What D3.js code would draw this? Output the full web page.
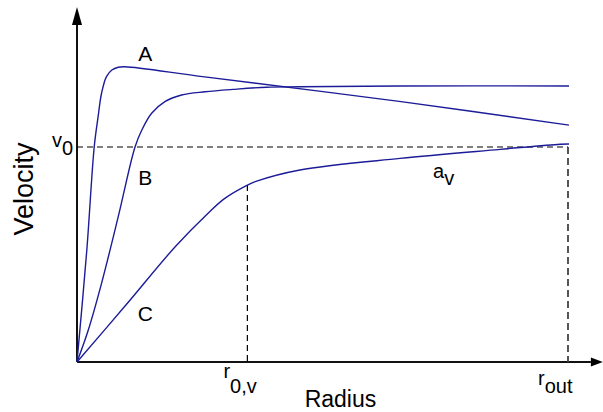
<!DOCTYPE html>
<html>
<head>
<meta charset="utf-8">
<script src="https://cdn.jsdelivr.net/npm/d3@7"></script>
<style>
  html, body { margin: 0; padding: 0; background: #fff; }
  svg { display: block; }
  text { font-family: "Liberation Sans", Arial, Helvetica, sans-serif; fill: #000; }
</style>
</head>
<body>
<svg id="chart" width="603" height="412"></svg>
<script>
// Rotation-curve sketch: velocity against radius for three profiles.
// Radius is in units where r_out = 10, velocity in units of v0.

const curveA_r = [0, 0.2, 0.35, 0.43, 0.5, 0.6, 0.71, 0.84, 0.98, 2.6, 6.6, 10.02];
const curveA_v = [0, 0.521, 0.999, 1.141, 1.25, 1.327, 1.358, 1.371, 1.373, 1.326, 1.211, 1.102];

const curveB_r = [0, 0.23, 0.5, 0.84, 1.18, 1.32, 1.52, 1.79, 2.13, 2.61, 3.18, 3.86, 4.54, 6.58, 10.02];
const curveB_v = [0, 0.149, 0.366, 0.676, 0.999, 1.079, 1.157, 1.211, 1.242, 1.257, 1.268, 1.278, 1.28, 1.284, 1.284];

const curveC_r = [0, 1.0, 2.0, 2.67, 3.01, 3.47, 3.63, 4.54, 6.58, 8.62, 9.84, 10.02];
const curveC_v = [0, 0.266, 0.536, 0.692, 0.761, 0.823, 0.839, 0.893, 0.947, 0.989, 1.013, 1.014];

const curveNames = ["A", "B", "C"];
// label anchor for each curve name, in data units
const nameR = [1.39, 1.39, 1.39];
const nameV = [1.398, 0.823, 0.19];

const v0 = 1;          // reference velocity
const r0v = 3.47;      // radius where curve C reaches its knee
const rOut = 10;       // outer radius
const rAxisEnd = 10.71;
const vAxisEnd = 1.651;

const svg = d3.select("#chart");

const x = d3.scaleLinear().domain([0, 10]).range([77, 568]);
const y = d3.scaleLinear().domain([0, 1]).range([362, 147]);

const blue = "#1c1c98";

// axes with arrowheads
const axisG = svg.append("g");
axisG.append("line")
  .attr("x1", x(0)).attr("y1", y(0))
  .attr("x2", x(0)).attr("y2", y(vAxisEnd) + 16)
  .attr("stroke", "#111").attr("stroke-width", 2);
axisG.append("line")
  .attr("x1", x(0)).attr("y1", y(0))
  .attr("x2", x(rAxisEnd) - 12).attr("y2", y(0))
  .attr("stroke", "#111").attr("stroke-width", 2);
axisG.append("path")
  .attr("d", `M${x(0)},${y(vAxisEnd)} L${x(0) - 5},${y(vAxisEnd) + 18} L${x(0) + 5},${y(vAxisEnd) + 18} Z`)
  .attr("fill", "#000");
axisG.append("path")
  .attr("d", `M${x(rAxisEnd)},${y(0)} L${x(rAxisEnd) - 12},${y(0) - 4.5} L${x(rAxisEnd) - 12},${y(0) + 4.5} Z`)
  .attr("fill", "#000");

// reference dashed lines
const dash = svg.append("g").attr("fill", "none");
dash.append("line")
  .attr("x1", x(0)).attr("y1", y(v0)).attr("x2", x(rOut)).attr("y2", y(v0))
  .attr("stroke", "#000").attr("stroke-width", 1.2).attr("stroke-dasharray", "6,4");
dash.append("line")
  .attr("x1", x(rOut)).attr("y1", y(v0)).attr("x2", x(rOut)).attr("y2", y(0))
  .attr("stroke", "#444").attr("stroke-width", 1.8).attr("stroke-dasharray", "7,4");
const cKnee = curveC_v[curveC_r.indexOf(r0v)];
dash.append("line")
  .attr("x1", x(r0v)).attr("y1", y(cKnee)).attr("x2", x(r0v)).attr("y2", y(0))
  .attr("stroke", "#000").attr("stroke-width", 1.2).attr("stroke-dasharray", "6,4");

// velocity curves
const line = d3.line()
  .x(d => x(d[0]))
  .y(d => y(d[1]))
  .curve(d3.curveCatmullRom.alpha(0.5));

const series = [
  d3.zip(curveA_r, curveA_v),
  d3.zip(curveB_r, curveB_v),
  d3.zip(curveC_r, curveC_v)
];

svg.append("g").selectAll("path")
  .data(series)
  .join("path")
  .attr("d", line)
  .attr("fill", "none")
  .attr("stroke", blue)
  .attr("stroke-width", 1.4);

// curve names
svg.append("g").selectAll("text")
  .data(curveNames)
  .join("text")
  .attr("x", (d, i) => x(nameR[i]))
  .attr("y", (d, i) => y(nameV[i]))
  .attr("text-anchor", "middle")
  .attr("font-size", 21)
  .text(d => d);

// label with subscript: main text at baseline, subscript dropped below
function subLabel(px, py, main, sub, drop) {
  const t = svg.append("text")
    .attr("x", px).attr("y", py)
    .attr("font-size", 20);
  t.append("tspan").text(main);
  t.append("tspan").attr("dy", drop).text(sub);
  return t;
}

subLabel(x(0) - 25, y(v0) - 0.5, "v", "0", 8);
subLabel(x(r0v) - 24, y(0) + 16, "r", "0,v", 15);
subLabel(x(rOut) - 30, y(0) + 23, "r", "out", 8);
subLabel(433, y(0.856), "a", "v", 7);

// axis titles
svg.append("text")
  .attr("x", (x(0) + x(rAxisEnd)) / 2 + 0.5)
  .attr("y", 407)
  .attr("text-anchor", "middle")
  .attr("font-size", 23)
  .text("Radius");

svg.append("text")
  .attr("transform", `translate(33,${189}) rotate(-90)`)
  .attr("text-anchor", "middle")
  .attr("font-size", 27)
  .text("Velocity");
</script>
</body>
</html>
